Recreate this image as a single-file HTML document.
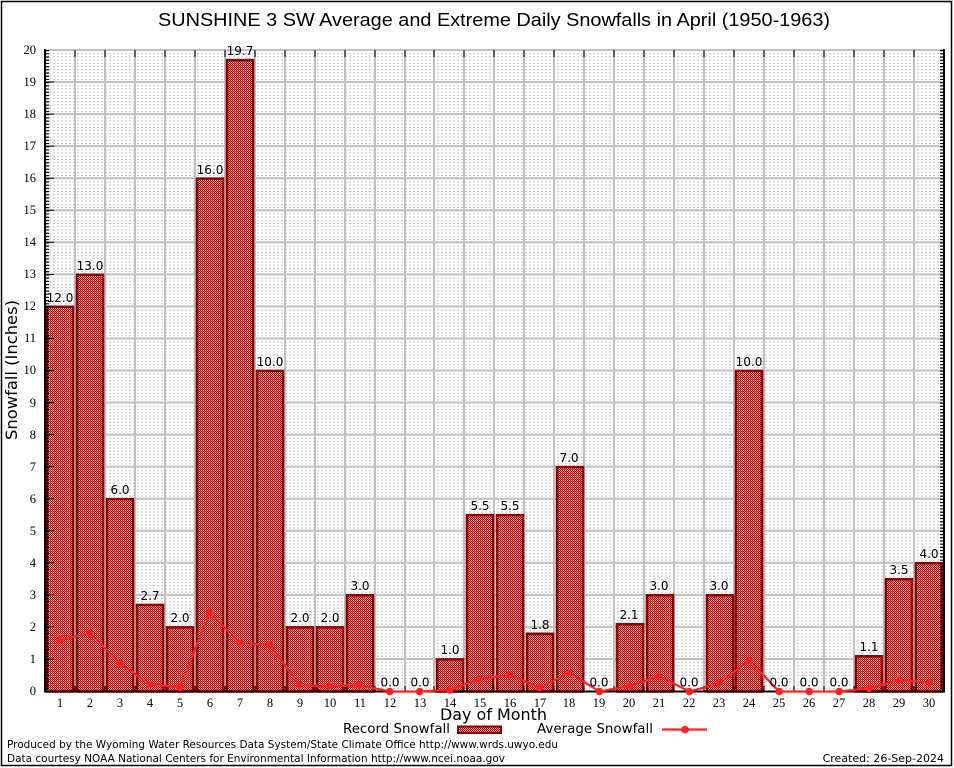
<!DOCTYPE html>
<html><head><meta charset="utf-8"><style>
html,body{margin:0;padding:0;background:#fff;}
svg{display:block;}
</style></head><body>
<svg width="954" height="768" viewBox="0 0 954 768" xmlns="http://www.w3.org/2000/svg">
<defs>
<pattern id="chk" width="2" height="2" patternUnits="userSpaceOnUse">
<rect width="2" height="2" fill="#e08080"/>
<rect x="0" y="0" width="1" height="1" fill="#a00000"/>
<rect x="1" y="1" width="1" height="1" fill="#a00000"/>
<rect x="1" y="0" width="1" height="1" fill="#ffffff"/>
</pattern>
<pattern id="minor" x="45" y="50" width="4" height="3.205" patternUnits="userSpaceOnUse">
<rect x="0" y="0" width="2" height="1" fill="#c8c8c8"/>
</pattern>
</defs>
<rect x="1.5" y="1.5" width="950" height="764" fill="#fff" stroke="#000" stroke-width="1.5"/>
<text x="158" y="26" font-family="Liberation Sans, sans-serif" font-size="18" textLength="672" lengthAdjust="spacingAndGlyphs">SUNSHINE 3 SW Average and Extreme Daily Snowfalls in April (1950-1963)</text>

<!-- minor grid -->
<rect x="46" y="50" width="897" height="641" fill="url(#minor)"/>
<!-- major grid -->
<g stroke="#c0c0c0" stroke-width="2">
<line x1="45" y1="50" x2="944" y2="50"/>
<line x1="45" y1="82.05" x2="944" y2="82.05"/>
<line x1="45" y1="114.1" x2="944" y2="114.1"/>
<line x1="45" y1="146.15" x2="944" y2="146.15"/>
<line x1="45" y1="178.2" x2="944" y2="178.2"/>
<line x1="45" y1="210.25" x2="944" y2="210.25"/>
<line x1="45" y1="242.3" x2="944" y2="242.3"/>
<line x1="45" y1="274.35" x2="944" y2="274.35"/>
<line x1="45" y1="306.4" x2="944" y2="306.4"/>
<line x1="45" y1="338.45" x2="944" y2="338.45"/>
<line x1="45" y1="370.5" x2="944" y2="370.5"/>
<line x1="45" y1="402.55" x2="944" y2="402.55"/>
<line x1="45" y1="434.6" x2="944" y2="434.6"/>
<line x1="45" y1="466.65" x2="944" y2="466.65"/>
<line x1="45" y1="498.7" x2="944" y2="498.7"/>
<line x1="45" y1="530.75" x2="944" y2="530.75"/>
<line x1="45" y1="562.8" x2="944" y2="562.8"/>
<line x1="45" y1="594.85" x2="944" y2="594.85"/>
<line x1="45" y1="626.9" x2="944" y2="626.9"/>
<line x1="45" y1="658.95" x2="944" y2="658.95"/>
<line x1="75" y1="50" x2="75" y2="691"/>
<line x1="105" y1="50" x2="105" y2="691"/>
<line x1="135" y1="50" x2="135" y2="691"/>
<line x1="165" y1="50" x2="165" y2="691"/>
<line x1="195" y1="50" x2="195" y2="691"/>
<line x1="225" y1="50" x2="225" y2="691"/>
<line x1="255" y1="50" x2="255" y2="691"/>
<line x1="285" y1="50" x2="285" y2="691"/>
<line x1="315" y1="50" x2="315" y2="691"/>
<line x1="345" y1="50" x2="345" y2="691"/>
<line x1="375" y1="50" x2="375" y2="691"/>
<line x1="405" y1="50" x2="405" y2="691"/>
<line x1="434" y1="50" x2="434" y2="691"/>
<line x1="464" y1="50" x2="464" y2="691"/>
<line x1="494" y1="50" x2="494" y2="691"/>
<line x1="524" y1="50" x2="524" y2="691"/>
<line x1="554" y1="50" x2="554" y2="691"/>
<line x1="584" y1="50" x2="584" y2="691"/>
<line x1="614" y1="50" x2="614" y2="691"/>
<line x1="644" y1="50" x2="644" y2="691"/>
<line x1="674" y1="50" x2="674" y2="691"/>
<line x1="704" y1="50" x2="704" y2="691"/>
<line x1="734" y1="50" x2="734" y2="691"/>
<line x1="764" y1="50" x2="764" y2="691"/>
<line x1="794" y1="50" x2="794" y2="691"/>
<line x1="824" y1="50" x2="824" y2="691"/>
<line x1="854" y1="50" x2="854" y2="691"/>
<line x1="884" y1="50" x2="884" y2="691"/>
<line x1="914" y1="50" x2="914" y2="691"/>
</g>

<!-- bars -->
<g fill="url(#chk)" stroke="#8c0000" stroke-width="2.6">
<rect x="47" y="306.9" width="26" height="384.6"/>
<rect x="77" y="274.85" width="26" height="416.65"/>
<rect x="107" y="499.2" width="26" height="192.3"/>
<rect x="137" y="604.97" width="26" height="86.53"/>
<rect x="167" y="627.4" width="26" height="64.1"/>
<rect x="197" y="178.7" width="26" height="512.8"/>
<rect x="227" y="60.1" width="26" height="631.4"/>
<rect x="257" y="371" width="26" height="320.5"/>
<rect x="287" y="627.4" width="26" height="64.1"/>
<rect x="317" y="627.4" width="26" height="64.1"/>
<rect x="347" y="595.35" width="26" height="96.15"/>
<rect x="437" y="659.45" width="26" height="32.05"/>
<rect x="467" y="515.2" width="26" height="176.3"/>
<rect x="497" y="515.2" width="26" height="176.3"/>
<rect x="527" y="633.8" width="26" height="57.7"/>
<rect x="557" y="467.15" width="26" height="224.35"/>
<rect x="617" y="624.2" width="26" height="67.3"/>
<rect x="647" y="595.35" width="26" height="96.15"/>
<rect x="707" y="595.35" width="26" height="96.15"/>
<rect x="736" y="371" width="26" height="320.5"/>
<rect x="856" y="656.25" width="26" height="35.25"/>
<rect x="886" y="579.3" width="26" height="112.2"/>
<rect x="916" y="563.3" width="26" height="128.2"/>
</g>

<!-- axes -->
<g stroke="#000" stroke-width="2" fill="none">
<line x1="45" y1="49" x2="45" y2="692"/>
<line x1="44" y1="691.5" x2="945" y2="691.5"/>
<line x1="944" y1="49" x2="944" y2="692"/>
</g>
<!-- ticks -->
<g stroke="#000" stroke-width="1">
<path d="M45 82.05h9M45 114.1h9M45 146.15h9M45 178.2h9M45 210.25h9M45 242.3h9M45 274.35h9M45 306.4h9M45 338.45h9M45 370.5h9M45 402.55h9M45 434.6h9M45 466.65h9M45 498.7h9M45 530.75h9M45 562.8h9M45 594.85h9M45 626.9h9M45 658.95h9"/>
<path d="M75 50v7M105 50v7M135 50v7M165 50v7M195 50v7M225 50v7M255 50v7M285 50v7M315 50v7M345 50v7M375 50v7M405 50v7M434 50v7M464 50v7M494 50v7M524 50v7M554 50v7M584 50v7M614 50v7M644 50v7M674 50v7M704 50v7M734 50v7M764 50v7M794 50v7M824 50v7M854 50v7M884 50v7M914 50v7"/>
<path d="M75 691v-5M105 691v-5M135 691v-5M165 691v-5M195 691v-5M225 691v-5M255 691v-5M285 691v-5M315 691v-5M345 691v-5M375 691v-5M405 691v-5M434 691v-5M464 691v-5M494 691v-5M524 691v-5M554 691v-5M584 691v-5M614 691v-5M644 691v-5M674 691v-5M704 691v-5M734 691v-5M764 691v-5M794 691v-5M824 691v-5M854 691v-5M884 691v-5M914 691v-5"/>
</g>
<g stroke="#000" stroke-width="1.2" stroke-dasharray="1.2 2.005">
<line x1="47" y1="50" x2="47" y2="691" stroke-width="4"/>
<line x1="942" y1="50" x2="942" y2="691" stroke-width="4"/>
</g>

<!-- average line -->
<polyline fill="none" stroke="#ff2020" stroke-width="2.2" points="60,639.9 90,633.2 119.9,663.3 149.9,684.4 179.9,687.3 209.8,612.3 239.8,643.1 269.8,645 299.7,685.1 329.7,686.1 359.7,685.1 389.6,691.5 419.6,691.5 449.6,689.9 479.5,679 509.5,674.8 539.5,687.7 569.4,672.6 599.4,691.5 629.4,686.1 659.3,676.1 689.3,691.5 719.3,683.2 749.2,660.7 779.2,691.5 809.2,691.5 839.1,691.5 869.1,688.3 899.1,680 929,682.8"/>
<g fill="#ff2020">
<circle cx="60" cy="639.9" r="3.8"/><circle cx="90" cy="633.2" r="3.8"/><circle cx="119.9" cy="663.3" r="3.8"/><circle cx="149.9" cy="684.4" r="3.8"/><circle cx="179.9" cy="687.3" r="3.8"/><circle cx="209.8" cy="612.3" r="3.8"/><circle cx="239.8" cy="643.1" r="3.8"/><circle cx="269.8" cy="645" r="3.8"/><circle cx="299.7" cy="685.1" r="3.8"/><circle cx="329.7" cy="686.1" r="3.8"/><circle cx="359.7" cy="685.1" r="3.8"/><circle cx="389.6" cy="691.5" r="3.8"/><circle cx="419.6" cy="691.5" r="3.8"/><circle cx="449.6" cy="689.9" r="3.8"/><circle cx="479.5" cy="679" r="3.8"/><circle cx="509.5" cy="674.8" r="3.8"/><circle cx="539.5" cy="687.7" r="3.8"/><circle cx="569.4" cy="672.6" r="3.8"/><circle cx="599.4" cy="691.5" r="3.8"/><circle cx="629.4" cy="686.1" r="3.8"/><circle cx="659.3" cy="676.1" r="3.8"/><circle cx="689.3" cy="691.5" r="3.8"/><circle cx="719.3" cy="683.2" r="3.8"/><circle cx="749.2" cy="660.7" r="3.8"/><circle cx="779.2" cy="691.5" r="3.8"/><circle cx="809.2" cy="691.5" r="3.8"/><circle cx="839.1" cy="691.5" r="3.8"/><circle cx="869.1" cy="688.3" r="3.8"/><circle cx="899.1" cy="680" r="3.8"/><circle cx="929" cy="682.8" r="3.8"/>
</g>

<!-- bar labels -->
<g font-family="DejaVu Sans, sans-serif" font-size="12" text-anchor="middle" fill="#000">
<text x="60" y="302">12.0</text>
<text x="90" y="270">13.0</text>
<text x="120" y="494">6.0</text>
<text x="150" y="600">2.7</text>
<text x="180" y="622">2.0</text>
<text x="210" y="174">16.0</text>
<text x="240" y="55">19.7</text>
<text x="270" y="366">10.0</text>
<text x="300" y="622">2.0</text>
<text x="330" y="622">2.0</text>
<text x="360" y="590">3.0</text>
<text x="390" y="686.5">0.0</text>
<text x="420" y="686.5">0.0</text>
<text x="450" y="654">1.0</text>
<text x="480" y="510">5.5</text>
<text x="510" y="510">5.5</text>
<text x="540" y="629">1.8</text>
<text x="569" y="462">7.0</text>
<text x="599" y="686.5">0.0</text>
<text x="629" y="619">2.1</text>
<text x="659" y="590">3.0</text>
<text x="689" y="686.5">0.0</text>
<text x="719" y="590">3.0</text>
<text x="749" y="366">10.0</text>
<text x="779" y="686.5">0.0</text>
<text x="809" y="686.5">0.0</text>
<text x="839" y="686.5">0.0</text>
<text x="869" y="651">1.1</text>
<text x="899" y="574">3.5</text>
<text x="929" y="558">4.0</text>
</g>

<!-- y tick labels -->
<g font-family="Liberation Serif, serif" font-size="12.5" text-anchor="end" fill="#000">
<text x="36" y="54">20</text>
<text x="36" y="86">19</text>
<text x="36" y="118">18</text>
<text x="36" y="150">17</text>
<text x="36" y="182">16</text>
<text x="36" y="214">15</text>
<text x="36" y="246">14</text>
<text x="36" y="278">13</text>
<text x="36" y="310">12</text>
<text x="36" y="342">11</text>
<text x="36" y="374">10</text>
<text x="36" y="407">9</text>
<text x="36" y="439">8</text>
<text x="36" y="471">7</text>
<text x="36" y="503">6</text>
<text x="36" y="535">5</text>
<text x="36" y="567">4</text>
<text x="36" y="599">3</text>
<text x="36" y="631">2</text>
<text x="36" y="663">1</text>
<text x="36" y="695">0</text>
</g>
<!-- x tick labels -->
<g font-family="Liberation Serif, serif" font-size="12.5" text-anchor="middle" fill="#000">
<text x="60" y="707">1</text><text x="90" y="707">2</text><text x="120" y="707">3</text><text x="150" y="707">4</text><text x="180" y="707">5</text><text x="210" y="707">6</text><text x="240" y="707">7</text><text x="270" y="707">8</text><text x="300" y="707">9</text><text x="330" y="707">10</text><text x="360" y="707">11</text><text x="390" y="707">12</text><text x="420" y="707">13</text><text x="450" y="707">14</text><text x="480" y="707">15</text><text x="510" y="707">16</text><text x="540" y="707">17</text><text x="569" y="707">18</text><text x="599" y="707">19</text><text x="629" y="707">20</text><text x="659" y="707">21</text><text x="689" y="707">22</text><text x="719" y="707">23</text><text x="749" y="707">24</text><text x="779" y="707">25</text><text x="809" y="707">26</text><text x="839" y="707">27</text><text x="869" y="707">28</text><text x="899" y="707">29</text><text x="929" y="707">30</text>
</g>

<!-- axis titles -->
<text x="440" y="720" font-family="DejaVu Sans, sans-serif" font-size="16" textLength="107" lengthAdjust="spacingAndGlyphs">Day of Month</text>
<text transform="translate(17,440) rotate(-90)" font-family="DejaVu Sans, sans-serif" font-size="16" textLength="140" lengthAdjust="spacingAndGlyphs">Snowfall (Inches)</text>

<!-- legend -->
<text x="343" y="733" font-family="DejaVu Sans, sans-serif" font-size="13" textLength="107" lengthAdjust="spacingAndGlyphs">Record Snowfall</text>
<rect x="458" y="726.5" width="43" height="6.5" fill="url(#chk)" stroke="#8c0000" stroke-width="2"/>
<text x="537" y="733" font-family="DejaVu Sans, sans-serif" font-size="13" textLength="116" lengthAdjust="spacingAndGlyphs">Average Snowfall</text>
<line x1="662" y1="729.5" x2="707" y2="729.5" stroke="#ff2020" stroke-width="2.2"/>
<circle cx="685" cy="729.5" r="3.8" fill="#ff2020"/>

<!-- footer -->
<g font-family="DejaVu Sans, sans-serif" font-size="11" fill="#000">
<text x="7" y="748" textLength="551" lengthAdjust="spacingAndGlyphs">Produced by the Wyoming Water Resources Data System/State Climate Office http://www.wrds.uwyo.edu</text>
<text x="7" y="762" textLength="498" lengthAdjust="spacingAndGlyphs">Data courtesy NOAA National Centers for Environmental Information http://www.ncei.noaa.gov</text>
<text x="944" y="762" text-anchor="end">Created: 26-Sep-2024</text>
</g>
</svg>
</body></html>
